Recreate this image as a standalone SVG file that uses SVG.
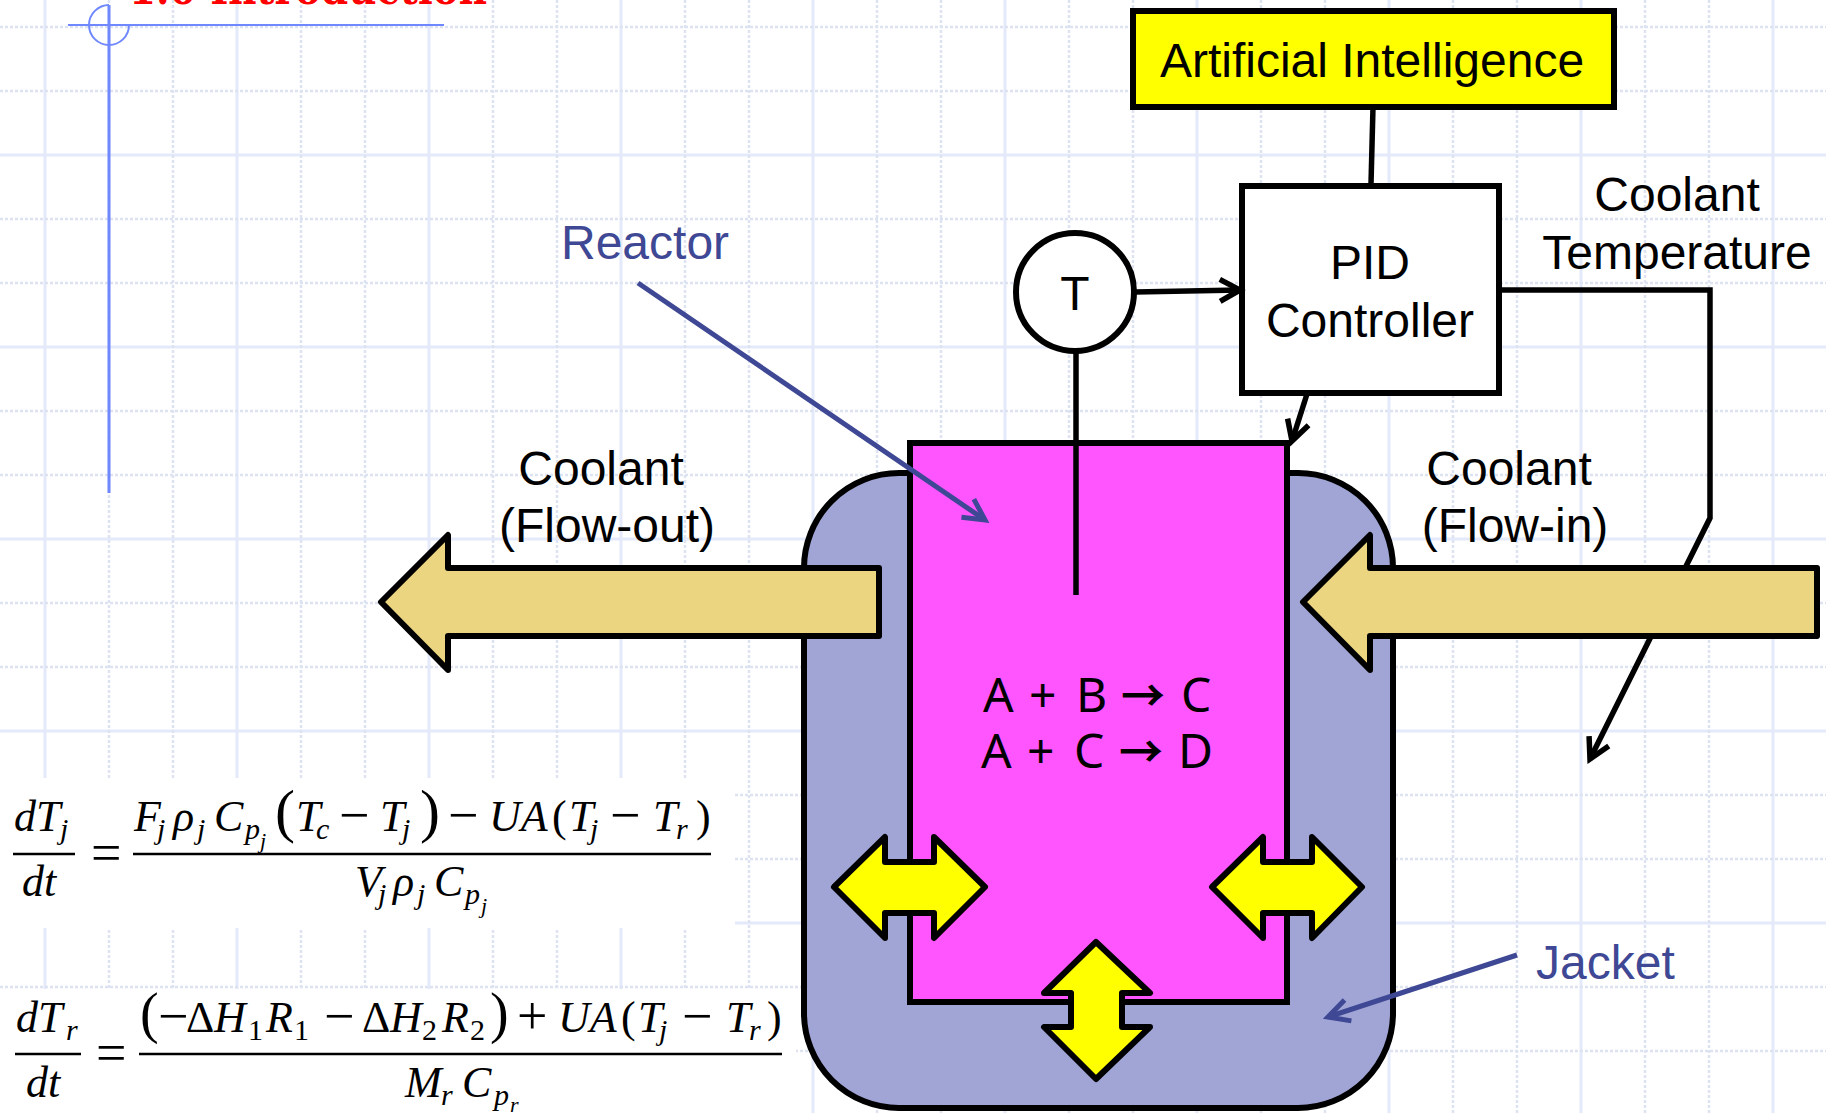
<svg xmlns="http://www.w3.org/2000/svg" width="1826" height="1113" viewBox="0 0 1826 1113">
<defs>
<marker id="hb" markerUnits="userSpaceOnUse" markerWidth="40" markerHeight="40" viewBox="-30 -20 40 40" refX="0" refY="0" orient="auto"><path d="M-20 -11L0 0L-20 11" fill="none" stroke="#000" stroke-width="5.5"/></marker>
<marker id="hv" markerUnits="userSpaceOnUse" markerWidth="40" markerHeight="40" viewBox="-30 -20 40 40" refX="0" refY="0" orient="auto"><path d="M-21 -11L0 0L-21 11" fill="none" stroke="#3f4894" stroke-width="5"/></marker>
</defs>
<style>
.gb{stroke:#e4eafa;stroke-width:3;fill:none}
.gd{stroke:#dde3f0;stroke-width:2.5;stroke-dasharray:3 2;fill:none}
.s{stroke:#000;stroke-width:6;stroke-linejoin:miter}
.a{stroke:#000;stroke-width:6;stroke-linejoin:round}
.lbl{font:48px "Liberation Sans",Arial,sans-serif;fill:#000;text-anchor:middle}
.vio{font:48px "Liberation Sans",Arial,sans-serif;fill:#3f4894}
.rx{font:48px "Noto Sans",sans-serif;fill:#000}
.ar{font-family:"Noto Sans CJK SC","DejaVu Sans",sans-serif;font-size:44px;font-weight:bold}
.c{fill:none;stroke:#000;stroke-width:5.5}
.v{fill:none;stroke:#3f4894;stroke-width:5}
.gold{fill:#ebd580}
.yel{fill:#ffff00}
.eq{font:italic 44px "Liberation Serif","Times New Roman",serif;fill:#000}
.up{font-style:normal}
.m{font-size:54px;font-style:normal}
.sub{font-size:30px}
.ssb{font-size:22px}
.bar{stroke:#000;stroke-width:2.5}
.bl{stroke:#7088ff;fill:none}
</style>
<g id="grid">
<path class="gb" d="M45 0V1113M237 0V1113M429 0V1113M621 0V1113M813 0V1113M1005 0V1113M1197 0V1113M1389 0V1113M1581 0V1113M1773 0V1113M0 155H1826M0 347H1826M0 539H1826M0 731H1826M0 923H1826"/>
<path class="gd" d="M109 0V1113M173 0V1113M301 0V1113M365 0V1113M493 0V1113M557 0V1113M685 0V1113M749 0V1113M877 0V1113M941 0V1113M1069 0V1113M1133 0V1113M1261 0V1113M1325 0V1113M1453 0V1113M1517 0V1113M1645 0V1113M1709 0V1113M0 27H1826M0 91H1826M0 219H1826M0 283H1826M0 411H1826M0 475H1826M0 603H1826M0 667H1826M0 795H1826M0 859H1826M0 987H1826M0 1051H1826"/>
<rect x="0" y="778" width="735" height="150" fill="#fff"/>
<rect x="0" y="989" width="796" height="124" fill="#fff"/>
</g>
<g id="title">
<text x="129" y="4" font-family="'DejaVu Serif',serif" font-weight="bold" font-size="44" fill="#ff0000" textLength="358" lengthAdjust="spacingAndGlyphs">1.0 Introduction</text>
<path class="bl" stroke-width="2" d="M68 25H444M109 5A20 20 0 1 0 129 25"/>
<path class="bl" stroke-width="3" d="M109 5V493"/>
</g>
<g id="jacket"><rect class="s" x="804" y="473" width="589" height="635" rx="95" ry="95" fill="#a1a5d5"/></g>
<g id="reactor"><rect class="s" x="910" y="443" width="377" height="559" fill="#ff55ff"/>
<text class="rx" y="712"><tspan x="983">A</tspan><tspan x="1029">+</tspan><tspan x="1076">B</tspan><tspan class="ar" x="1121">→</tspan><tspan x="1181">C</tspan></text>
<text class="rx" y="768"><tspan x="981">A</tspan><tspan x="1027">+</tspan><tspan x="1074">C</tspan><tspan class="ar" x="1119">→</tspan><tspan x="1178">D</tspan></text>
</g>
<g id="ai"><rect x="1133" y="11" width="481" height="96" fill="#ffff00" stroke="#000" stroke-width="6"/><text class="lbl" x="1372" y="77">Artificial Intelligence</text></g>
<g id="pid"><rect class="s" x="1242" y="186" width="257" height="207" fill="#fff"/><text class="lbl" x="1370" y="279">PID</text><text class="lbl" x="1370" y="337">Controller</text></g>
<g id="sensor"><circle class="s" cx="1075" cy="292" r="59" fill="#fff"/><text class="lbl" x="1075" y="310">T</text></g>
<g id="connectors">
<path class="c" d="M1076 352V595"/>
<path class="c" d="M1373 107L1371 184"/>
<path class="c" marker-end="url(#hb)" d="M1135 292L1240 290"/>
<path class="c" marker-end="url(#hb)" d="M1307 394L1292 441"/>
<path class="c" marker-end="url(#hb)" d="M1499 290H1710V518L1590 759"/>
<path class="v" marker-end="url(#hv)" d="M638 283L985 520"/>
<path class="v" marker-end="url(#hv)" d="M1517 955L1328 1017"/>
</g>
<g id="coolant-out"><path class="a gold" d="M381 602L448 535V568H879V636H448V670Z"/><text class="lbl" x="601" y="485">Coolant</text><text class="lbl" x="607" y="542">(Flow-out)</text></g>
<g id="coolant-in"><path class="a gold" d="M1303 602L1370 535V568H1817V636H1370V670Z"/><text class="lbl" x="1509" y="485">Coolant</text><text class="lbl" x="1515" y="542">(Flow-in)</text></g>
<g id="heat-left"><path class="a yel" d="M834 887L885 837V862H934V837L985 887L934 938V913H885V938Z"/></g>
<g id="heat-right"><path class="a yel" d="M1212 887L1263 837V862H1312V837L1362 887L1312 938V913H1263V938Z"/></g>
<g id="heat-bottom"><path class="a yel" d="M1096 942L1150 993H1122V1027H1150L1096 1079L1044 1027H1071V993H1044Z"/></g>
<g id="labels">
<text class="vio" x="561" y="259">Reactor</text>
<text class="vio" x="1536" y="979">Jacket</text>
<text class="lbl" x="1677" y="211">Coolant</text>
<text class="lbl" x="1677" y="269">Temperature</text>
</g>
<g id="eq1">
<text class="eq" y="831"><tspan x="14">d</tspan><tspan x="36">T</tspan><tspan class="sub" x="60" y="839">j</tspan></text>
<text class="eq" y="896"><tspan x="22">dt</tspan></text>
<path class="bar" d="M13 854H75M133 854H711"/>
<text class="eq m" x="91" y="871">=</text>
<text class="eq" y="831"><tspan x="134">F</tspan><tspan class="sub" x="157" y="839">j</tspan><tspan x="173" y="831">ρ</tspan><tspan class="sub" x="197" y="839">j</tspan><tspan x="214" y="831">C</tspan><tspan class="sub" x="245" y="839">p</tspan><tspan class="ssb" x="260" y="848">j</tspan><tspan class="up" x="275" y="831" font-size="60">(</tspan><tspan x="296" y="831">T</tspan><tspan class="sub" x="316" y="839">c</tspan><tspan class="m" x="339" y="833">−</tspan><tspan x="380" y="831">T</tspan><tspan class="sub" x="402" y="839">j</tspan><tspan class="up" x="420" y="831" font-size="60">)</tspan><tspan class="m" x="448" y="833">−</tspan><tspan x="489" y="831">UA</tspan><tspan class="up" x="552" y="831">(</tspan><tspan x="569" y="831">T</tspan><tspan class="sub" x="590" y="839">j</tspan><tspan class="m" x="610" y="833">−</tspan><tspan x="653" y="831">T</tspan><tspan class="sub" x="676" y="839">r</tspan><tspan class="up" x="696" y="831">)</tspan></text>
<text class="eq" y="896"><tspan x="355">V</tspan><tspan class="sub" x="378" y="904">j</tspan><tspan x="393" y="896">ρ</tspan><tspan class="sub" x="417" y="904">j</tspan><tspan x="434" y="896">C</tspan><tspan class="sub" x="465" y="904">p</tspan><tspan class="ssb" x="481" y="913">j</tspan></text>
</g>
<g id="eq2">
<text class="eq" y="1032"><tspan x="16">d</tspan><tspan x="38">T</tspan><tspan class="sub" x="66" y="1040">r</tspan></text>
<text class="eq" y="1097"><tspan x="26">dt</tspan></text>
<path class="bar" d="M15 1054H81M139 1054H782"/>
<text class="eq m" x="96" y="1071">=</text>
<text class="eq" y="1032"><tspan class="up" x="140" font-size="56">(</tspan><tspan class="m" x="158" y="1034">−</tspan><tspan class="up" x="186" y="1032">Δ</tspan><tspan x="214" y="1032">H</tspan><tspan class="sub up" x="248" y="1040">1</tspan><tspan x="266" y="1032">R</tspan><tspan class="sub up" x="294" y="1040">1</tspan><tspan class="m" x="324" y="1034">−</tspan><tspan class="up" x="362" y="1032">Δ</tspan><tspan x="390" y="1032">H</tspan><tspan class="sub up" x="422" y="1040">2</tspan><tspan x="442" y="1032">R</tspan><tspan class="sub up" x="470" y="1040">2</tspan><tspan class="up" x="490" y="1032" font-size="56">)</tspan><tspan class="m" x="517" y="1034">+</tspan><tspan x="558" y="1032">UA</tspan><tspan class="up" x="621" y="1032">(</tspan><tspan x="638" y="1032">T</tspan><tspan class="sub" x="659" y="1040">j</tspan><tspan class="m" x="682" y="1034">−</tspan><tspan x="726" y="1032">T</tspan><tspan class="sub" x="749" y="1040">r</tspan><tspan class="up" x="767" y="1032">)</tspan></text>
<text class="eq" y="1097"><tspan x="405">M</tspan><tspan class="sub" x="441" y="1105">r</tspan><tspan x="462" y="1097">C</tspan><tspan class="sub" x="494" y="1105">p</tspan><tspan class="ssb" x="510" y="1112">r</tspan></text>
</g>
</svg>
